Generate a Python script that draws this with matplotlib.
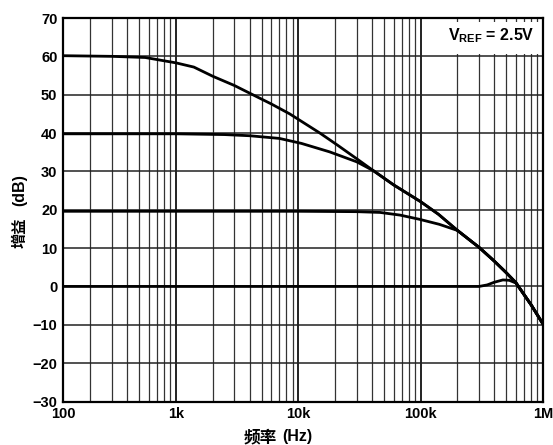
import matplotlib
matplotlib.use("Agg")
import matplotlib.pyplot as plt
from matplotlib.ticker import FixedLocator, NullFormatter

plt.rcParams['font.family'] = ['Liberation Sans', 'Noto Sans CJK SC', 'DejaVu Sans']
plt.rcParams['font.weight'] = 'bold'
plt.rcParams['mathtext.fontset'] = 'custom'
plt.rcParams['mathtext.rm'] = 'Liberation Sans:bold'
plt.rcParams['mathtext.it'] = 'Liberation Sans:bold'
plt.rcParams['mathtext.bf'] = 'Liberation Sans:bold'

# frequency in Hz, gain in dB
freq_60 = [100, 300, 560, 1000, 1400, 2000, 3000, 4000, 6000, 8500, 15000, 21000,
           30000, 41000, 60000, 100000, 140000, 200000, 300000, 400000, 500000,
           600000, 800000, 1000000]
gain_60 = [60.2, 60.0, 59.7, 58.3, 57.2, 54.8, 52.4, 50.4, 47.6, 45.0, 40.0, 36.8,
           33.3, 30.2, 26.5, 22.1, 18.8, 14.6, 10.2, 6.6, 3.6,
           1.0, -4.8, -9.8]

freq_40 = [100, 1000, 2500, 4000, 7000, 10600, 18000, 30000, 41000, 60000, 100000,
           140000, 200000, 300000, 400000, 500000, 600000, 800000, 1000000]
gain_40 = [39.8, 39.8, 39.6, 39.3, 38.6, 37.3, 35.1, 32.5, 30.2, 26.5, 22.1,
           18.8, 14.6, 10.2, 6.6, 3.6, 1.0, -4.8, -9.8]

freq_20 = [100, 10000, 30000, 46600, 68000, 98000, 142000, 200000, 300000, 400000,
           500000, 600000, 800000, 1000000]
gain_20 = [19.6, 19.6, 19.5, 19.3, 18.6, 17.5, 16.2, 14.6, 10.2, 6.6,
           3.6, 1.0, -4.8, -9.8]

freq_0 = [100, 300000, 350000, 400000, 470000, 530000, 600000, 800000, 1000000]
gain_0 = [0.0, 0.0, 0.4, 1.1, 1.7, 1.6, 0.9, -4.8, -9.8]

x_left = 119.2  # the reference's left edge, labelled "100"
x_ticks = [x_left, 1e3, 1e4, 1e5, 1e6]
x_labels = ['100', '1k', '10k', '100k', '1M']
y_ticks = [-30, -20, -10, 0, 10, 20, 30, 40, 50, 60, 70]

fig = plt.figure(figsize=(5.53, 4.45), dpi=100)
ax = fig.add_axes([63 / 553, 43.5 / 445, 480 / 553, 383.5 / 445])

for f, g in [(freq_60, gain_60), (freq_40, gain_40), (freq_20, gain_20), (freq_0, gain_0)]:
    ax.plot(f, g, color='black', lw=2.0, solid_capstyle='butt', zorder=3)

ax.set_xscale('log')
ax.set_xlim(x_left, 1e6)
ax.set_ylim(-30, 70)

minor = [m * 10 ** d for d in range(2, 6) for m in range(2, 10)]
ax.xaxis.set_major_locator(FixedLocator(x_ticks))
ax.xaxis.set_minor_locator(FixedLocator(minor))
ax.xaxis.set_minor_formatter(NullFormatter())
ax.set_xticklabels(x_labels)
ax.set_yticks(y_ticks)
ax.set_yticklabels([str(v).replace('-', '\u2212') for v in y_ticks])

ax.tick_params(which='both', length=0)
ax.tick_params(axis='both', labelsize=10.5, pad=4)
for lab in ax.get_xticklabels() + ax.get_yticklabels():
    lab.set_fontweight('bold')

ax.set_axisbelow(True)
ax.grid(which='major', axis='x', color='#111111', lw=1.3)
ax.grid(which='minor', axis='x', color='#333333', lw=0.9)
ax.grid(which='major', axis='y', color='#222222', lw=1.1)
for s in ax.spines.values():
    s.set_linewidth(1.6)
    s.set_zorder(5)

# white label box top right
ax.fill_between([1.03e5, 1e6], 60.5, 69.0, color='white', lw=0, zorder=1.5)
ax.text(0.983, 0.955, r'$V_{REF}$ = 2.5V', transform=ax.transAxes,
        ha='right', va='center', fontsize=11.5, fontweight='bold', zorder=4)

# axis titles
fig.text(260 / 553, 1 - 437 / 445, '频率', fontsize=12, fontweight='bold',
         family=['Noto Sans CJK SC'], ha='center', va='center')
fig.text(297 / 553, 1 - 436 / 445, '(Hz)', fontsize=11.5, fontweight='bold',
         ha='center', va='center')
fig.text(20 / 553, 1 - 233 / 445, '增益', fontsize=11, fontweight='bold',
         family=['Noto Sans CJK SC'], ha='center', va='center', rotation=90)
fig.text(20 / 553, 1 - 190 / 445, '(dB)', fontsize=11.5, fontweight='bold',
         ha='center', va='center', rotation=90)

fig.savefig('out.png', dpi=100)
